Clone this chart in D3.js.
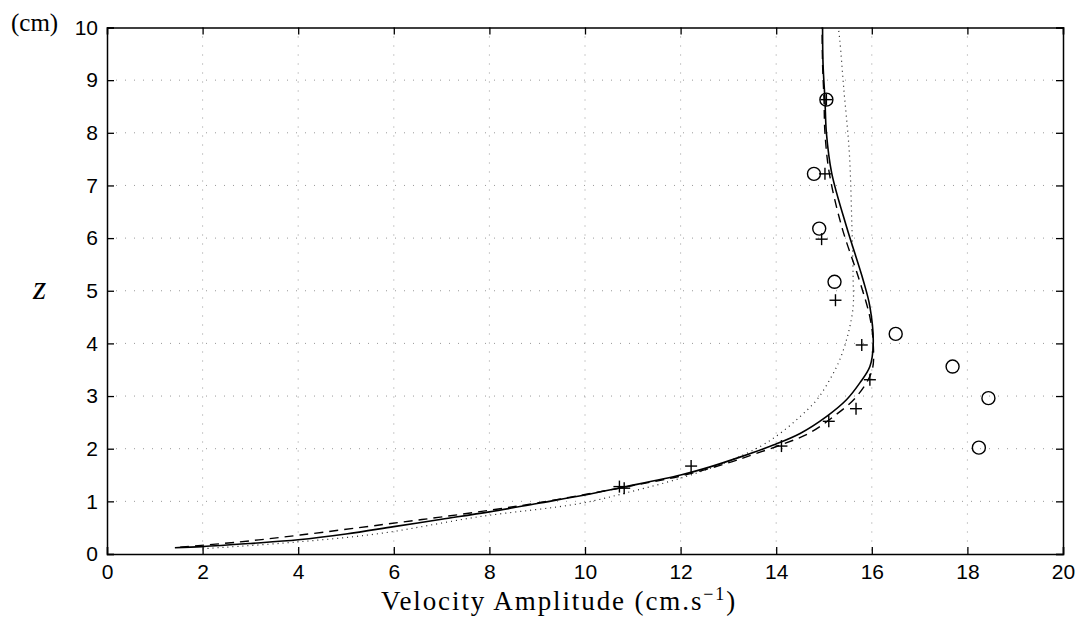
<!DOCTYPE html>
<html>
<head>
<meta charset="utf-8">
<script src="https://cdn.jsdelivr.net/npm/d3@7"></script>
<style>
  body { margin: 0; background: #fff; }
  svg { display: block; }
  .tick-label { font-family: "Liberation Sans", Arial, sans-serif; font-size: 21px; fill: #000; }
  .serif { font-family: "Liberation Serif", "DejaVu Serif", serif; fill: #000; }
</style>
</head>
<body>
<svg id="chart" width="1080" height="633"></svg>
<script>
// x ticks and y ticks
const xTicks = [0, 2, 4, 6, 8, 10, 12, 14, 16, 18, 20];
const yTicks = [0, 1, 2, 3, 4, 5, 6, 7, 8, 9, 10];

// model curves: [velocity, z]
const solidCurve = [
  [1.42, 0.12], [2.0, 0.14], [3.0, 0.2], [4.0, 0.27], [5.0, 0.38], [6.0, 0.52],
  [7.0, 0.66], [8.0, 0.8], [9.0, 0.96], [10.0, 1.12], [10.75, 1.26], [12.0, 1.5],
  [12.6, 1.65], [13.24, 1.84], [13.94, 2.07], [14.5, 2.29], [15.05, 2.61],
  [15.47, 2.93], [15.75, 3.25], [15.96, 3.56], [16.03, 4.0], [15.96, 4.7],
  [15.82, 5.2], [15.47, 6.22], [15.16, 7.24], [15.05, 8.0], [15.02, 8.63],
  [14.98, 9.3], [14.97, 10]
];
const dashedCurve = [
  [1.53, 0.13], [2.78, 0.23], [4.04, 0.36], [5.78, 0.56], [6.97, 0.7],
  [8.15, 0.85], [9.0, 0.97], [10.0, 1.13], [11.0, 1.3], [12.0, 1.48],
  [12.96, 1.72], [13.52, 1.89], [14.15, 2.09], [14.7, 2.3], [15.2, 2.61],
  [15.68, 2.99], [16.0, 3.47], [16.03, 4.0], [15.96, 4.5], [15.74, 5.2],
  [15.37, 6.22], [15.11, 7.24], [15.02, 8.0], [15.0, 8.63], [14.97, 9.3],
  [14.96, 10]
];
const dottedCurve = [
  [2.0, 0.1], [4.0, 0.23], [5.71, 0.39], [7.8, 0.71], [9.9, 0.96],
  [10.94, 1.18], [12.0, 1.44], [13.0, 1.76], [13.66, 2.04], [14.08, 2.29],
  [14.5, 2.61], [14.85, 2.93], [15.12, 3.31], [15.33, 3.69], [15.51, 4.2],
  [15.61, 4.7], [15.61, 5.2], [15.58, 6.35], [15.53, 7.62], [15.41, 8.88],
  [15.33, 9.77], [15.3, 10]
];

// measurements
const circlePoints = [
  [15.05, 8.63], [14.79, 7.22], [14.9, 6.18], [15.22, 5.17],
  [16.5, 4.18], [17.69, 3.56], [18.44, 2.96], [18.24, 2.02]
];
const plusPoints = [
  [15.05, 8.63], [15.02, 7.22], [14.95, 5.98], [15.24, 4.82], [15.79, 3.97],
  [15.96, 3.31], [15.67, 2.76], [15.1, 2.52], [14.11, 2.05], [12.22, 1.67],
  [10.72, 1.28], [10.82, 1.25]
];

const plotLeft = 107, plotRight = 1063, plotTop = 27.5, plotBottom = 554;
const svg = d3.select("#chart");

const x = d3.scaleLinear().domain([0, 20]).range([plotLeft, plotRight]);
const y = d3.scaleLinear().domain([0, 10]).range([plotBottom, plotTop]);

//Grid
const grid = svg.append("g");
grid.selectAll(".gx")
  .data(xTicks.slice(1, -1))
  .enter()
  .append("line")
  .attr("x1", d => x(d)).attr("x2", d => x(d))
  .attr("y1", plotTop).attr("y2", plotBottom)
  .attr("stroke", "#999").attr("stroke-width", 1)
  .attr("stroke-dasharray", "1,8");
grid.selectAll(".gy")
  .data(yTicks.slice(1, -1))
  .enter()
  .append("line")
  .attr("x1", plotLeft).attr("x2", plotRight)
  .attr("y1", d => y(d)).attr("y2", d => y(d))
  .attr("stroke", "#999").attr("stroke-width", 1)
  .attr("stroke-dasharray", "1,8");

//Axes with inward ticks
svg.append("g")
  .attr("transform", `translate(0,${plotBottom})`)
  .call(d3.axisBottom(x).tickValues(xTicks).tickSize(-7).tickPadding(10).tickFormat(d3.format("d")));
svg.append("g")
  .attr("transform", `translate(0,${plotTop})`)
  .call(d3.axisTop(x).tickValues(xTicks).tickSize(-7).tickFormat(""));
svg.append("g")
  .attr("transform", `translate(${plotLeft},0)`)
  .call(d3.axisLeft(y).tickValues(yTicks).tickSize(-7).tickPadding(9).tickFormat(d3.format("d")));
svg.append("g")
  .attr("transform", `translate(${plotRight},0)`)
  .call(d3.axisRight(y).tickValues(yTicks).tickSize(-7).tickFormat(""));

svg.selectAll(".domain").attr("stroke", "#000").attr("stroke-width", 1.5);
svg.selectAll(".tick line").attr("stroke", "#000").attr("stroke-width", 1.3);
svg.selectAll(".tick text").attr("class", "tick-label").attr("fill", "#000");

//Curves
const line = d3.line()
  .x(d => x(d[0]))
  .y(d => y(d[1]))
  .curve(d3.curveCatmullRom.alpha(0.5));

svg.append("path").datum(dottedCurve)
  .attr("d", line).attr("fill", "none")
  .attr("stroke", "#222").attr("stroke-width", 1.2)
  .attr("stroke-dasharray", "1,4");
svg.append("path").datum(dashedCurve)
  .attr("d", line).attr("fill", "none")
  .attr("stroke", "#000").attr("stroke-width", 1.4)
  .attr("stroke-dasharray", "9,6");
svg.append("path").datum(solidCurve)
  .attr("d", line).attr("fill", "none")
  .attr("stroke", "#000").attr("stroke-width", 1.6);

//Markers
svg.selectAll(".circ")
  .data(circlePoints)
  .enter()
  .append("circle")
  .attr("cx", d => x(d[0])).attr("cy", d => y(d[1]))
  .attr("r", 6.5)
  .attr("fill", "none").attr("stroke", "#000").attr("stroke-width", 1.4);

const plus = svg.selectAll(".plus")
  .data(plusPoints)
  .enter()
  .append("g");
plus.append("line")
  .attr("x1", d => x(d[0]) - 6).attr("x2", d => x(d[0]) + 6)
  .attr("y1", d => y(d[1])).attr("y2", d => y(d[1]))
  .attr("stroke", "#000").attr("stroke-width", 1.4);
plus.append("line")
  .attr("x1", d => x(d[0])).attr("x2", d => x(d[0]))
  .attr("y1", d => y(d[1]) - 6).attr("y2", d => y(d[1]) + 6)
  .attr("stroke", "#000").attr("stroke-width", 1.4);

//Labels
const xLabel = svg.append("text")
  .attr("class", "serif")
  .attr("x", 381).attr("y", 610)
  .style("font-size", "27px")
  .style("letter-spacing", "1.9px");
xLabel.append("tspan").text("Velocity Amplitude (cm.s");
xLabel.append("tspan").attr("dy", -10).style("font-size", "18px").text("\u22121");
xLabel.append("tspan").attr("dy", 10).text(")");

svg.append("text")
  .attr("class", "serif")
  .attr("x", 33).attr("y", 299)
  .style("font-size", "34px").style("font-style", "italic")
  .text("z");

svg.append("text")
  .attr("class", "serif")
  .attr("x", 11).attr("y", 31)
  .style("font-size", "25px")
  .text("(cm)");
</script>
</body>
</html>
